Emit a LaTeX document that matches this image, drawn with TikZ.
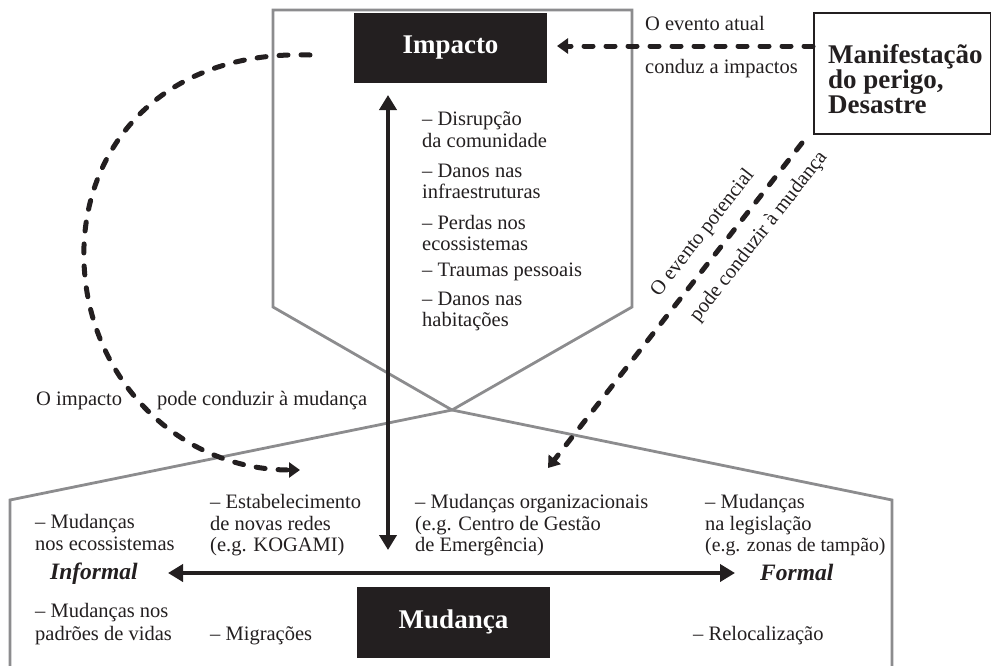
\documentclass[tikz,border=0pt]{standalone}
\usepackage{fontspec}
\setmainfont{Liberation Serif}
\usetikzlibrary{arrows.meta}
\definecolor{ink}{RGB}{35,31,32}
\definecolor{framegray}{RGB}{140,140,142}
\begin{document}
\begin{tikzpicture}[x=1pt,y=-1pt,
  txt/.style={text=ink, font=\fontsize{20.5}{21.5}\selectfont, anchor=base west, inner sep=0pt},
  rtxt/.style={text=ink, font=\fontsize{20.5}{21.5}\selectfont, anchor=center, inner sep=0pt, rotate=52},
  axislbl/.style={text=ink, font=\fontsize{23.5}{24}\selectfont\bfseries\itshape, anchor=base west, inner sep=0pt},
  blackbox/.style={fill=ink, text=white, font=\fontsize{27}{28}\selectfont\bfseries, inner sep=0pt},
  boldtxt/.style={text=ink, font=\fontsize{27}{28}\selectfont\bfseries, anchor=base west, inner sep=0pt},
  frameline/.style={draw=framegray, line width=2.8pt, line join=miter},
  dasharrow/.style={draw=ink, line width=5pt, line cap=round, dash pattern=on 9pt off 13pt, -{Triangle[width=15pt,length=11pt]}},
  solidarrow/.style={draw=ink, line width=4.8pt, {Triangle[width=17pt,length=15pt]}-{Triangle[width=17pt,length=15pt]}}
]
\useasboundingbox (0,0) rectangle (991,665);

% frames
\draw[frameline] (273,10) -- (632,10) -- (632,307) -- (452,410) -- (273,307) -- cycle;
\draw[frameline] (10,690) -- (10,500) -- (452,410) -- (892,500) -- (892,690);

% boxes
\node[blackbox, minimum width=193pt, minimum height=70pt] (impacto) at (450.5,48) {Impacto};
\node[blackbox, minimum width=193pt, minimum height=71pt] (mudanca) at (453.5,622) {Mudança};
\node[rectangle, draw=ink, line width=2pt, minimum width=177pt, minimum height=121pt, anchor=north west, inner sep=0pt] (manif) at (813,12) {};
\node[boldtxt] (m1) at (828,63) {Manifestação};
\node[boldtxt] (m2) at (828,88) {do perigo,};
\node[boldtxt] (m3) at (828,113) {Desastre};

% connectors
\coordinate (tipA) at (557,46);
\draw[dasharrow] (tipA -| manif.west) -- (tipA);

\coordinate (cs) at (310,55);
\coordinate (ce) at (300,470);
\draw[dasharrow] (cs) .. controls (160,50) and (80,150) .. (84,262) .. controls (88,380) and (180,470) .. (ce);

\coordinate (ds) at (802,143);
\coordinate (de) at (548,468);
\draw[dasharrow] (ds) -- (de);

\coordinate (vt) at (388,95);
\coordinate (vb) at (388,550);
\draw[solidarrow] (vt) -- (vb);

\coordinate (hl) at (168,573);
\coordinate (hr) at (735,573);
\draw[solidarrow] (hl) -- (hr);

% top labels
\node[txt] (ev1) at (645,30) {O evento atual};
\node[txt] (ev2) at (645,73) {conduz a impactos};

% impact list
\node[txt] (i1) at (422,125) {– Disrupção};
\node[txt] (i2) at (422,147) {da comunidade};
\node[txt] (i3) at (422,177) {– Danos nas};
\node[txt] (i4) at (422,198) {infraestruturas};
\node[txt] (i5) at (422,229) {– Perdas nos};
\node[txt] (i6) at (422,250) {ecossistemas};
\node[txt] (i7) at (422,276) {– Traumas pessoais};
\node[txt] (i8) at (422,305) {– Danos nas};
\node[txt] (i9) at (422,326) {habitações};

% curve labels
\node[txt] (c1) at (36,405) {O impacto};
\node[txt] (c2) at (157,405) {pode conduzir à mudança};

% diagonal labels
\node[rtxt] (p1) at (703,233) {O evento potencial};
\node[rtxt] (p2) at (759,237) {pode conduzir à mudança};

% change list
\node[txt] (a1) at (35,528) {– Mudanças};
\node[txt] (a2) at (35,550) {nos ecossistemas};
\node[txt] (a3) at (35,617) {– Mudanças nos};
\node[txt] (a4) at (35,640) {padrões de vidas};

\node[txt] (b1) at (210,508) {– Estabelecimento};
\node[txt] (b2) at (210,530) {de novas redes};
\node[txt] (b3) at (210,551) {(e.g. KOGAMI)};
\node[txt] (b4) at (210,640) {– Migrações};

\node[txt] (n1) at (415,508) {– Mudanças organizacionais};
\node[txt] (n2) at (415,530) {(e.g. Centro de Gestão};
\node[txt] (n3) at (415,551) {de Emergência)};

\node[txt] (r1) at (705,508) {– Mudanças};
\node[txt] (r2) at (705,530) {na legislação};
\node[txt, font=\fontsize{19.8}{21.5}\selectfont] (r3) at (705,551) {(e.g. zonas de tampão)};
\node[txt] (r4) at (693,640) {– Relocalização};

\node[axislbl] (inf) at (50,579) {Informal};
\node[axislbl] (form) at (760,580) {Formal};
\end{tikzpicture}
\end{document}
